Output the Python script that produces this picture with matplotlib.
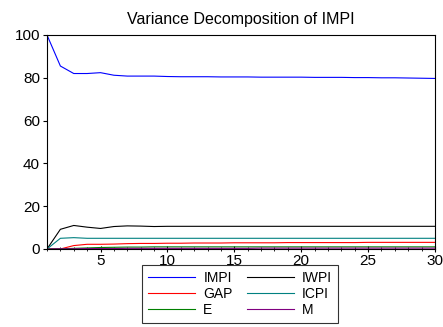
import numpy as np
import matplotlib
matplotlib.use("Agg")
import matplotlib.pyplot as plt
from matplotlib.ticker import MultipleLocator

plt.rcParams['font.family'] = ['Liberation Sans', 'DejaVu Sans']

periods = np.arange(1, 31)
impi = [100.0, 85.5, 82.0, 82.0, 82.4, 81.2, 80.8, 80.8, 80.8, 80.6,
        80.5, 80.5, 80.5, 80.4, 80.4, 80.4, 80.3, 80.3, 80.3, 80.3,
        80.2, 80.2, 80.2, 80.1, 80.1, 80.0, 80.0, 79.9, 79.8, 79.7]
iwpi = [0.0, 9.2, 11.0, 10.2, 9.6, 10.5, 10.8, 10.7, 10.5, 10.6,
        10.6, 10.6, 10.6, 10.6, 10.6, 10.6, 10.6, 10.6, 10.6, 10.6,
        10.6, 10.6, 10.6, 10.6, 10.6, 10.6, 10.6, 10.6, 10.6, 10.6]
gap = [0.0, 0.0, 1.6, 2.2, 2.2, 2.3, 2.5, 2.6, 2.6, 2.7,
       2.7, 2.8, 2.8, 2.8, 2.9, 2.9, 2.9, 2.9, 3.0, 3.0,
       3.0, 3.0, 3.0, 3.0, 3.1, 3.1, 3.1, 3.1, 3.1, 3.1]
icpi = [0.0, 5.0, 5.3, 5.0, 5.0, 5.0, 5.0, 5.0, 5.0, 5.0,
        5.0, 5.0, 5.0, 5.0, 5.0, 5.0, 5.0, 5.0, 5.0, 5.0,
        5.0, 5.0, 5.0, 5.0, 5.0, 5.0, 5.0, 5.0, 5.0, 5.0]
e = [0.0, 0.1, 0.3, 0.5, 0.7, 0.8, 0.9, 0.9, 1.0, 1.0,
     1.0, 1.0, 1.0, 1.0, 1.0, 1.0, 1.0, 1.0, 1.0, 1.0,
     1.0, 1.0, 1.0, 1.0, 1.0, 1.0, 1.0, 1.0, 1.0, 1.0]
m = [0.0, 0.1, 0.1, 0.2, 0.2, 0.2, 0.3, 0.3, 0.3, 0.3,
     0.3, 0.3, 0.3, 0.3, 0.3, 0.3, 0.4, 0.4, 0.4, 0.4,
     0.4, 0.4, 0.4, 0.4, 0.4, 0.4, 0.4, 0.4, 0.4, 0.4]

fig = plt.figure(figsize=(4.43, 3.27), dpi=100)
ax = fig.add_axes([47/443, 1 - 249/327, (435-47)/443, (249-35)/327])

l_impi, = ax.plot(periods, impi, color='#0000ff', lw=0.8, label='IMPI')
l_iwpi, = ax.plot(periods, iwpi, color='#000000', lw=0.8, label='IWPI')
l_gap, = ax.plot(periods, gap, color='#ff0000', lw=0.8, label='GAP')
l_icpi, = ax.plot(periods, icpi, color='#008080', lw=0.8, label='ICPI')
l_e, = ax.plot(periods, e, color='#008000', lw=0.8, label='E')
l_m, = ax.plot(periods, m, color='#800080', lw=0.8, label='M')

ax.set_xlim(1, 30)
ax.set_ylim(0, 100)
ax.xaxis.set_major_locator(MultipleLocator(5))
ax.xaxis.set_minor_locator(MultipleLocator(1))
ax.set_yticks([0, 20, 40, 60, 80, 100])
ax.tick_params(axis='x', which='both', direction='inout', length=5, labelsize=11, pad=1)
ax.tick_params(axis='x', which='minor', length=3)
ax.tick_params(axis='y', direction='out', length=3, labelsize=11, pad=2)
for s in ax.spines.values():
    s.set_linewidth(0.8)

ax.set_title('Variance Decomposition of IMPI', fontsize=11.5, pad=8)

# row-wise order like the original: IMPI IWPI / GAP ICPI / E M
handles = [l_impi, l_gap, l_e, l_iwpi, l_icpi, l_m]
leg = fig.legend(handles=handles, labels=[h.get_label() for h in handles],
                 loc='center', bbox_to_anchor=(240/443, 1 - 294/327), ncol=2,
                 fontsize=10, frameon=True, fancybox=False, edgecolor='black',
                 handlelength=3.4, columnspacing=1.0, labelspacing=0.15,
                 borderpad=0.4, handletextpad=0.6)
leg.get_frame().set_linewidth(0.8)

fig.savefig('out.png', dpi=100)
